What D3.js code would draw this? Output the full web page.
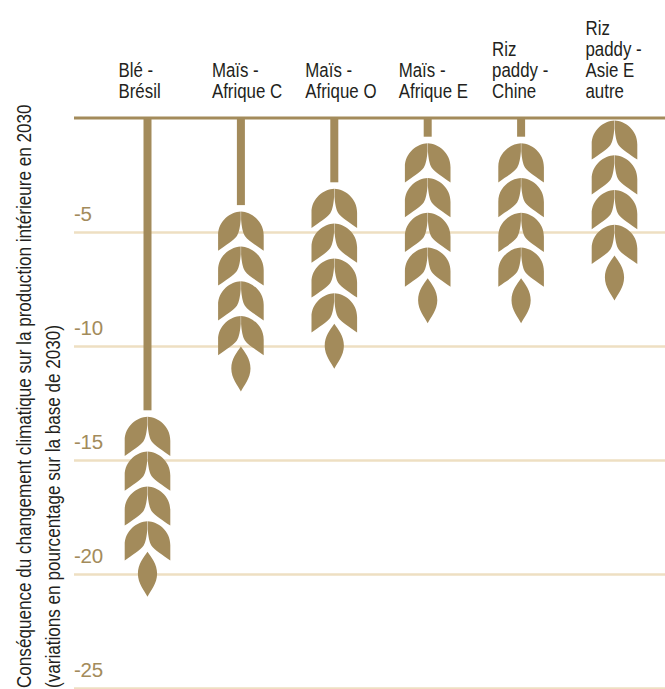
<!DOCTYPE html>
<html><head><meta charset="utf-8">
<style>html,body{margin:0;padding:0;background:#fff}svg{display:block}text{font-family:"Liberation Sans",Arial,sans-serif}</style>
<script src="https://cdn.jsdelivr.net/npm/d3@7"></script></head><body>
<svg id="c" width="665" height="689"></svg>
<script>
const categories = ["Blé - Brésil","Maïs - Afrique C","Maïs - Afrique O","Maïs - Afrique E","Riz paddy - Chine","Riz paddy - Asie E autre"];
const labelLines = [["Blé -","Brésil"],["Maïs -","Afrique C"],["Maïs -","Afrique O"],["Maïs -","Afrique E"],["Riz","paddy -","Chine"],["Riz","paddy -","Asie E","autre"]];
const values = [-21,-12,-11,-9,-9,-8];
const tickValues = [-5,-10,-15,-20,-25];
const axisTitle = ["Conséquence du changement climatique sur la production intérieure en 2030","(variations en pourcentage sur la base de 2030)"];

const GOLD="#a38b5b", GRID="#eedfc2", TEXT="#231f20";
const svg=d3.select("#c");
const y=d3.scaleLinear().domain([0,-25]).range([118,688]);
const x=d3.scalePoint().domain(categories).range([147.5,614.5]);

const axis=svg.append("g").attr("transform","translate(665,0)")
 .call(d3.axisLeft(y).tickValues(tickValues).tickSize(591).tickFormat(d=>d));
axis.select(".domain").remove();
axis.selectAll("line").attr("stroke",GRID).attr("stroke-width",2.5);
axis.selectAll("text").attr("fill",GOLD).attr("font-size",20.5).attr("text-anchor","start")
 .attr("x",-591).attr("dy",-12).attr("y",0).style("font-family",'"Liberation Sans",Arial,sans-serif').style("letter-spacing","-0.3px");

// wheat glyph, relative to the tip of the ear
const half="M-0.2,0 C-10,0.5 -23,9 -22.8,24 L-22.8,39.2 C-15,33.5 -7.5,29.5 -4,24.5 C-1.8,21 -0.7,15 -0.2,8 Z";
const mirror="M0.2,0 C10,0.5 23,9 22.8,24 L22.8,39.2 C15,33.5 7.5,29.5 4,24.5 C1.8,21 0.7,15 0.2,8 Z";
const tip="M0,0 C4,6 9.6,12 9.6,22 C9.6,32 3,39 0,45 C-3,39 -9.6,32 -9.6,22 C-9.6,12 -4,6 0,0 Z";
const HEAD=180, STEP=34.8, GRAINS=d3.range(4), GAP=6.5;

const ears=svg.append("g").selectAll("g").data(categories).join("g")
 .attr("transform",c=>`translate(${x(c)},0)`);
ears.each(function(c,i){
  const g=d3.select(this), yTip=y(values[i]), top=yTip-HEAD;
  if(top-GAP>y(0)) g.append("rect").attr("x",-4).attr("width",8).attr("y",y(0)).attr("height",top-GAP-y(0)).attr("fill",GOLD);
  GRAINS.forEach(k=>{
    const t=`translate(0,${top+k*STEP})`;
    g.append("path").attr("d",half).attr("transform",t).attr("fill",GOLD);
    g.append("path").attr("d",mirror).attr("transform",t).attr("fill",GOLD);
  });
  g.append("path").attr("d",tip).attr("transform",`translate(0,${yTip-45})`).attr("fill",GOLD);
});

svg.append("line").attr("x1",74).attr("x2",665).attr("y1",y(0)).attr("y2",y(0)).attr("stroke",GOLD).attr("stroke-width",3);

const LH=21, FS=19.5, SX=0.8775, SXC=0.865;
svg.append("g").selectAll("text").data(categories).join("text")
 .attr("transform",(c,i)=>`translate(${x(c)-29},${98-(labelLines[i].length-1)*LH}) scale(${SXC},1)`)
 .attr("font-size",FS).attr("fill",TEXT)
 .each(function(c,i){
   d3.select(this).selectAll("tspan").data(labelLines[i]).join("tspan")
    .attr("x",0).attr("dy",(d,j)=>j?LH:0).text(d=>d);
 });

svg.append("text").attr("transform",`translate(31,688) rotate(-90) scale(${SX},1)`).attr("font-size",FS).attr("fill",TEXT).text(axisTitle[0]);
svg.append("text").attr("transform",`translate(59.5,688) rotate(-90) scale(${SX},1)`).attr("font-size",FS).attr("fill",TEXT).text(axisTitle[1]);
</script></body></html>
